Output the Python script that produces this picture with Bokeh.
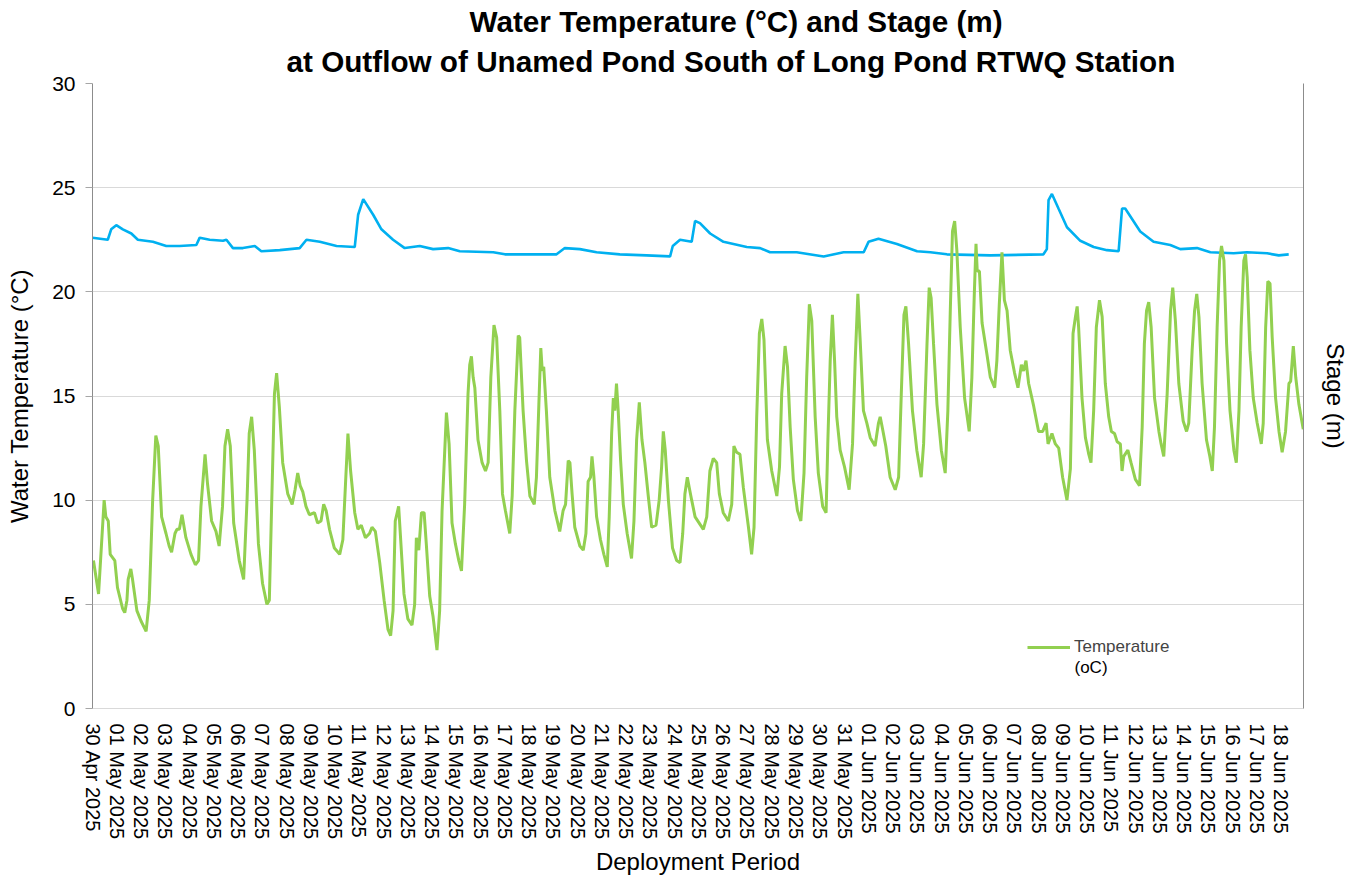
import math
import pandas as pd
from bokeh.plotting import figure
from bokeh.models import (Range1d, LinearAxis, DatetimeTickFormatter, DaysTicker,
                          FixedTicker, Legend, LegendItem, Title, Label)
from bokeh.embed import file_html
from bokeh.resources import INLINE

FONT = "Liberation Sans"
start = pd.Timestamp("2025-04-30")
end = start + pd.Timedelta(days=49.92)

# Temperature (oC): elapsed days since 30 Apr 2025 00:00, value
temp_day = [0.04, 0.25, 0.48, 0.55, 0.65, 0.73, 0.92, 1.03, 1.24, 1.33, 1.42, 1.47, 1.58, 1.65, 1.83, 2.0,
            2.21, 2.34, 2.48, 2.61, 2.71, 2.85, 3.03, 3.16, 3.26, 3.40, 3.48, 3.58, 3.69, 3.85, 4.06, 4.24,
            4.37, 4.47, 4.64, 4.74, 4.91, 5.09, 5.22, 5.36, 5.46, 5.57, 5.68, 5.82, 6.05, 6.23, 6.37, 6.46,
            6.56, 6.67, 6.84, 7.01, 7.19, 7.29, 7.39, 7.50, 7.59, 7.70, 7.84, 8.05, 8.23, 8.35, 8.46, 8.56,
            8.67, 8.80, 8.94, 9.15, 9.28, 9.42, 9.53, 9.63, 9.77, 9.97,
            10.19, 10.32, 10.43, 10.53, 10.64, 10.81, 10.94, 11.08, 11.25, 11.42, 11.52, 11.66, 11.84, 12.02,
            12.18, 12.29, 12.39, 12.48, 12.62, 12.73, 12.84, 13.0, 13.17, 13.28, 13.35, 13.45, 13.56, 13.67,
            13.76, 13.90, 14.04, 14.20, 14.31, 14.41, 14.59, 14.70, 14.82, 14.96, 15.10, 15.21, 15.34, 15.48,
            15.55, 15.62, 15.69, 15.76, 15.89, 16.06, 16.20, 16.31, 16.42, 16.55, 16.66, 16.79, 16.90, 17.02,
            17.20, 17.30, 17.41, 17.55, 17.61, 17.75, 17.89, 18.03, 18.21, 18.30, 18.40, 18.48, 18.54, 18.60,
            18.71, 18.85, 19.06, 19.26, 19.40, 19.50, 19.61, 19.68, 19.77, 19.88, 20.09,
            20.23, 20.34, 20.43, 20.53, 20.59, 20.67, 20.78, 20.94, 21.08, 21.22, 21.30, 21.40, 21.47, 21.53,
            21.60, 21.67, 21.77, 21.88, 22.04, 22.22, 22.32, 22.43, 22.54, 22.65, 22.77, 22.91, 23.05, 23.23,
            23.36, 23.46, 23.53, 23.61, 23.74, 23.91, 24.08, 24.22, 24.33, 24.42, 24.52, 24.60, 24.70, 24.84,
            25.01, 25.18, 25.32, 25.45, 25.59, 25.73, 25.84, 26.00, 26.21, 26.35, 26.44, 26.55, 26.69, 26.83,
            27.04, 27.17, 27.27, 27.38, 27.49, 27.59, 27.68, 27.82, 28.00, 28.21, 28.32, 28.41, 28.55, 28.65,
            28.76, 28.89, 29.06, 29.20, 29.33, 29.44, 29.55, 29.65, 29.79, 29.92, 30.10, 30.24,
            30.31, 30.41, 30.50, 30.59, 30.68, 30.82, 31.00, 31.19, 31.33, 31.44, 31.55, 31.64, 31.78, 31.92,
            32.06, 32.26, 32.40, 32.47, 32.57, 32.70, 32.88, 33.09, 33.23, 33.34, 33.45, 33.53, 33.64, 33.80,
            33.98, 34.16, 34.26, 34.40, 34.49, 34.57, 34.67, 34.81, 34.99, 35.15, 35.26, 35.36, 35.45, 35.54,
            35.63, 35.77, 35.95, 36.14, 36.25, 36.35, 36.42, 36.47, 36.56, 36.67, 36.87, 37.01, 37.19, 37.28,
            37.38, 37.49, 37.59, 37.70, 37.83, 38.01, 38.15, 38.29, 38.38, 38.48, 38.59, 38.80, 39.00, 39.17,
            39.31, 39.39, 39.55, 39.69, 39.83, 39.99, 40.17, 40.31,
            40.42, 40.52, 40.59, 40.65, 40.79, 40.93, 41.07, 41.16, 41.27, 41.38, 41.51, 41.62, 41.75, 41.89,
            42.00, 42.13, 42.24, 42.37, 42.44, 42.51, 42.68, 42.81, 42.99, 43.16, 43.27, 43.36, 43.45, 43.54,
            43.64, 43.78, 43.96, 44.05, 44.16, 44.30, 44.44, 44.53, 44.64, 44.78, 44.96, 45.10, 45.19, 45.33,
            45.43, 45.52, 45.61, 45.74, 45.92, 46.06, 46.16, 46.25, 46.36, 46.46, 46.54, 46.64, 46.75, 46.89,
            47.05, 47.15, 47.26, 47.35, 47.46, 47.53, 47.60, 47.71, 47.85, 48.01, 48.18, 48.26, 48.36, 48.45,
            48.54, 48.63, 48.77, 48.91, 49.04, 49.18, 49.32, 49.39, 49.50, 49.60, 49.73, 49.91]
temp_c = [7.1, 5.5, 10.0, 9.2, 9.0, 7.4, 7.1, 5.8, 4.8, 4.6, 5.2, 6.2, 6.7, 6.2, 4.7, 4.2,
          3.7, 5.2, 10.0, 13.1, 12.6, 9.2, 8.4, 7.8, 7.5, 8.4, 8.6, 8.6, 9.3, 8.2, 7.4, 6.9,
          7.1, 9.7, 12.2, 10.8, 9.0, 8.5, 7.8, 9.7, 12.6, 13.4, 12.6, 8.9, 7.1, 6.2, 10.0, 13.2,
          14.0, 12.4, 7.9, 6.0, 5.0, 5.2, 10.0, 15.1, 16.1, 14.5, 11.8, 10.3, 9.8, 10.5, 11.3, 10.7,
          10.4, 9.7, 9.3, 9.4, 8.9, 9.0, 9.8, 9.5, 8.6, 7.7,
          7.4, 8.1, 10.8, 13.2, 11.4, 9.4, 8.6, 8.8, 8.2, 8.4, 8.7, 8.5, 7.0, 5.2,
          3.8, 3.5, 4.7, 9.0, 9.7, 7.6, 5.5, 4.3, 4.0, 5.0, 8.2, 7.6, 9.4, 9.4,
          7.9, 5.4, 4.4, 2.8, 4.7, 9.5, 14.2, 12.7, 8.9, 7.9, 7.1, 6.6, 9.8, 15.1,
          16.5, 16.9, 15.9, 15.4, 12.9, 11.8, 11.4, 11.8, 15.9, 18.4, 17.8, 14.3, 10.3, 9.5,
          8.4, 10.2, 14.3, 17.9, 17.8, 14.3, 11.9, 10.2, 9.8, 11.1, 14.6, 17.3, 16.2, 16.4,
          14.3, 11.1, 9.5, 8.5, 9.5, 9.8, 11.9, 11.8, 10.3, 8.7, 7.8,
          7.6, 8.4, 10.9, 11.1, 12.1, 11.1, 9.2, 8.1, 7.4, 6.8, 9.2, 13.2, 14.9, 14.3,
          15.6, 14.3, 11.9, 9.8, 8.4, 7.2, 9.0, 12.9, 14.7, 12.9, 11.8, 10.2, 8.7, 8.8,
          10.0, 11.6, 13.3, 12.4, 10.0, 7.7, 7.1, 7.0, 8.4, 10.3, 11.1, 10.6, 10.0, 9.2,
          8.9, 8.6, 9.2, 11.4, 12.0, 11.8, 10.3, 9.4, 9.0, 9.8, 12.6, 12.3, 12.2, 10.6,
          8.7, 7.4, 8.7, 14.0, 18.0, 18.7, 17.7, 12.9, 11.4, 10.2, 11.6, 15.1, 17.4, 16.4,
          13.5, 11.0, 9.5, 9.0, 11.3, 15.9, 19.4, 18.6, 14.0, 11.3, 9.7, 9.4,
          12.7, 16.7, 18.9, 16.7, 14.0, 12.4, 11.6, 10.5, 12.7, 16.7, 19.9, 17.8, 14.3, 13.7,
          13.0, 12.6, 13.7, 14.0, 13.4, 12.6, 11.1, 10.5, 11.1, 15.1, 18.9, 19.3, 17.5, 14.3,
          12.4, 11.1, 12.7, 17.5, 20.2, 19.7, 17.5, 14.6, 12.4, 11.3, 14.3, 19.1, 22.9, 23.4,
          22.0, 18.3, 14.9, 13.3, 15.9, 19.9, 22.3, 21.0, 21.0, 18.5, 17.0, 15.9, 15.4, 16.7,
          19.4, 21.9, 19.6, 19.1, 17.2, 16.1, 15.4, 16.5, 16.2, 16.7, 15.6, 14.5, 13.3, 13.3,
          13.7, 12.7, 13.2, 12.7, 12.5, 11.1, 10.0, 11.5,
          18.0, 18.8, 19.3, 18.3, 14.9, 13.0, 12.2, 11.8, 14.3, 18.3, 19.6, 18.8, 15.6, 14.0,
          13.3, 13.2, 12.8, 12.7, 11.4, 12.1, 12.4, 11.8, 11.0, 10.7, 13.5, 17.5, 19.1, 19.5,
          18.3, 14.9, 13.3, 12.7, 12.1, 15.1, 19.1, 20.2, 18.6, 15.6, 13.8, 13.3, 13.7, 17.2,
          19.1, 19.9, 18.8, 15.6, 12.9, 12.1, 11.4, 13.5, 18.3, 21.5, 22.2, 21.5, 17.5, 14.3,
          12.4, 11.8, 14.3, 18.3, 21.5, 21.8, 20.7, 17.2, 14.9, 13.7, 12.7, 13.7, 18.3, 20.5,
          20.4, 17.8, 14.9, 13.3, 12.3, 13.3, 15.6, 15.7, 17.4, 15.9, 14.6, 13.4]

# Stage (secondary axis, no tick labels shown): elapsed days, value
stage_day = [0.0, 0.63, 0.77, 0.98, 1.25, 1.60, 1.87, 2.49, 3.04, 3.59, 4.28, 4.42, 4.83, 5.38, 5.52,
             5.79, 6.20, 6.69, 6.96, 7.72, 8.54, 8.82, 9.37, 10.06, 10.81, 10.95, 11.16, 11.57, 11.91,
             12.39, 12.87, 13.49, 14.04, 14.66, 15.14, 16.52, 17.00, 17.96, 19.13, 19.47, 20.09, 20.78,
             21.74, 22.84, 23.81, 23.92, 24.22, 24.70, 24.84, 25.04, 25.46, 26.01, 26.97, 27.52, 27.93,
             29.03, 30.14, 30.96, 31.79, 31.99, 32.40, 33.16, 33.99, 34.54, 35.22, 37.01, 39.20, 39.34,
             39.41, 39.55, 39.82, 40.17, 40.72, 41.27, 41.82, 42.30, 42.44, 42.57, 43.19, 43.74, 44.43,
             44.84, 45.53, 46.08, 47.04, 47.59, 48.42, 48.90, 49.31]
stage_val = [22.6, 22.5, 23.0, 23.2, 23.0, 22.8, 22.5, 22.4, 22.2, 22.2, 22.25, 22.6, 22.5, 22.45, 22.5,
             22.1, 22.1, 22.2, 21.95, 22.0, 22.1, 22.5, 22.4, 22.2, 22.15, 23.7, 24.45, 23.7, 23.0,
             22.5, 22.1, 22.2, 22.05, 22.1, 21.95, 21.9, 21.8, 21.8, 21.8, 22.1, 22.05, 21.9,
             21.8, 21.75, 21.7, 22.2, 22.5, 22.4, 23.4, 23.3, 22.8, 22.4, 22.15, 22.1, 21.9,
             21.9, 21.7, 21.9, 21.9, 22.4, 22.55, 22.3, 21.95, 21.9, 21.8, 21.75, 21.8, 22.05,
             24.4, 24.7, 24.0, 23.1, 22.45, 22.15, 22.0, 21.95, 24.0, 24.0, 22.9, 22.4, 22.25,
             22.05, 22.1, 21.9, 21.85, 21.9, 21.85, 21.75, 21.8]

title_lines = ["Water Temperature (°C) and Stage (m)",
               "at Outflow of Unamed Pond South of Long Pond RTWQ Station"]

temp_t = [start + pd.Timedelta(days=d) for d in temp_day]
stage_t = [start + pd.Timedelta(days=d) for d in stage_day]

p = figure(width=1351, height=878, x_axis_type="datetime",
           x_range=Range1d(start, end), y_range=Range1d(0, 30),
           output_backend="svg", toolbar_location=None,
           min_border_left=92, min_border_right=48, min_border_top=83, min_border_bottom=160)
p.outline_line_color = None
p.background_fill_color = "white"
p.border_fill_color = "white"

# two-line title: p.title is the outer (first) line, second line added closer to the frame
p.title.text = title_lines[0]
p.title.align = "left"
p.title.offset = 377
p.title.text_font = FONT
p.title.text_font_size = "29.7px"
p.title.text_font_style = "bold"
p.title.text_color = "black"
p.title.text_line_height = 0.8
p.title.standoff = 0
t2 = Title(text=title_lines[1], align="left", offset=194, text_font=FONT, text_font_size="29.7px",
           text_font_style="bold", text_color="black", standoff=11)
p.add_layout(t2, "above")

p.extra_y_ranges = {"stage": Range1d(0, 30)}

r_stage = p.line(stage_t, stage_val, line_color="#00b0f0", line_width=2.6, y_range_name="stage")
r_temp = p.line(temp_t, temp_c, line_color="#92d050", line_width=3)

# x axis
xa = p.xaxis[0]
xa.ticker = DaysTicker(days=list(range(1, 32)))
xa.formatter = DatetimeTickFormatter(days="%d %b %Y", months="%d %b %Y")
xa.major_label_orientation = -math.pi / 2
xa.major_label_text_font = FONT
xa.major_label_text_font_size = "20px"
xa.major_label_text_color = "black"
xa.major_label_standoff = 9
xa.major_tick_line_color = None
xa.minor_tick_line_color = None
xa.axis_line_color = "#d9d9d9"
xa.axis_label = "Deployment Period"
xa.axis_label_text_font = FONT
xa.axis_label_text_font_size = "24px"
xa.axis_label_text_font_style = "normal"
xa.axis_label_text_color = "black"
xa.axis_label_standoff = 6

# y axis (left)
ya = p.yaxis[0]
ya.ticker = FixedTicker(ticks=[0, 5, 10, 15, 20, 25, 30])
ya.major_label_text_font = FONT
ya.major_label_text_font_size = "21px"
ya.major_label_text_color = "black"
ya.major_label_standoff = 10
ya.major_tick_out = 7
ya.major_tick_in = 0
ya.major_tick_line_color = "#a6a6a6"
ya.minor_tick_line_color = None
ya.axis_line_color = "#8c8c8c"
ya.axis_label = "Water Temperature (°C)"
ya.axis_label_text_font = FONT
ya.axis_label_text_font_size = "24px"
ya.axis_label_text_font_style = "normal"
ya.axis_label_text_color = "black"
ya.axis_label_standoff = 16

# right axis for stage
ra = LinearAxis(y_range_name="stage", ticker=FixedTicker(ticks=[]))
ra.axis_label = "Stage (m)"
ra.axis_label_text_font = FONT
ra.axis_label_text_font_size = "24px"
ra.axis_label_text_font_style = "normal"
ra.axis_label_text_color = "black"
ra.axis_label_standoff = 18
ra.axis_line_color = "#8c8c8c"
ra.major_tick_line_color = None
ra.minor_tick_line_color = None
p.add_layout(ra, "right")

p.xgrid.visible = False
p.ygrid.grid_line_color = "#d9d9d9"
p.ygrid.grid_line_width = 1.2

legend = Legend(items=[LegendItem(label="Temperature", renderers=[r_temp])],
                location=(935, 51), padding=0, margin=0, spacing=0,
                glyph_width=43, glyph_height=16, label_standoff=4,
                label_text_font=FONT, label_text_font_size="17px",
                background_fill_alpha=0, border_line_alpha=0)
p.add_layout(legend)
p.add_layout(Label(x=982, y=32, x_units="screen", y_units="screen", text="(oC)",
                   text_font=FONT, text_font_size="17px", text_color="black"))

open("out.html", "w").write(file_html(p, INLINE))
